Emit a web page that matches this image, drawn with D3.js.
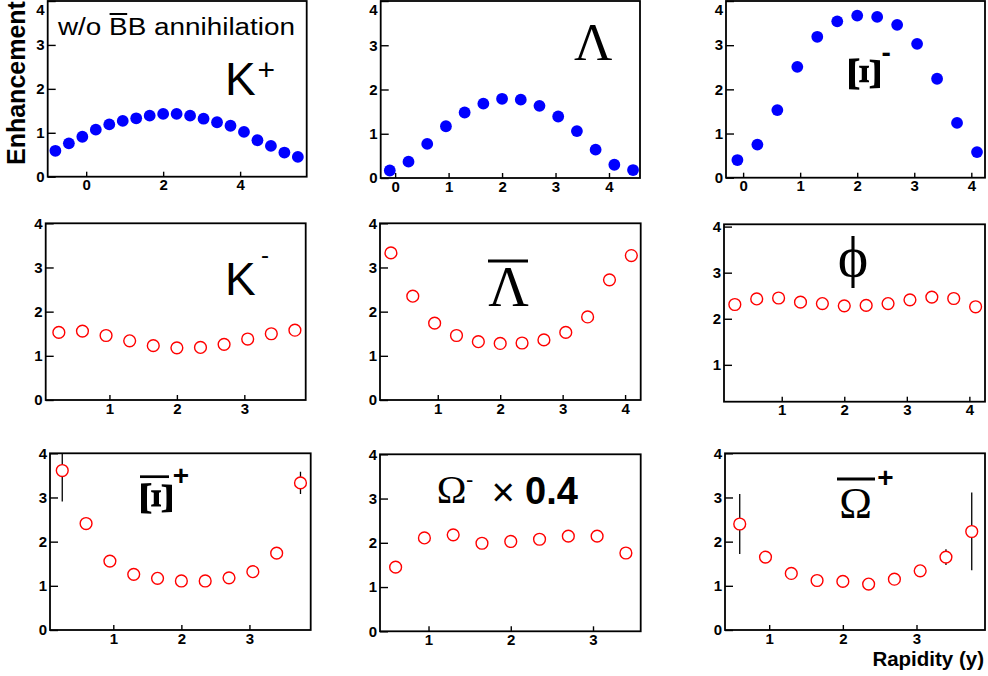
<!DOCTYPE html>
<html>
<head>
<meta charset="utf-8">
<script src="https://cdn.jsdelivr.net/npm/d3@7"></script>
<style>
  body { margin: 0; background: #fff; }
  svg { display: block; }
  text { font-family: "Liberation Sans", Arial, Helvetica, sans-serif; }
  .serif { font-family: "Liberation Serif", "Times New Roman", "DejaVu Serif", serif; }
</style>
</head>
<body>
<svg id="chart" width="988" height="676"></svg>
<script>
// ---- Rapidity bins and enhancement values, one pair of arrays per particle ----
const kPlusRap = [-0.8, -0.45, -0.1, 0.25, 0.6, 0.95, 1.3, 1.65, 2.0, 2.35, 2.7, 3.05, 3.4, 3.75, 4.1, 4.45, 4.8, 5.15, 5.5];
const kPlusEnh = [0.59, 0.76, 0.91, 1.07, 1.19, 1.27, 1.33, 1.39, 1.43, 1.43, 1.39, 1.32, 1.24, 1.16, 1.02, 0.83, 0.70, 0.55, 0.45];

const lambdaRap = [-0.1, 0.25, 0.6, 0.95, 1.3, 1.65, 2.0, 2.35, 2.7, 3.05, 3.4, 3.75, 4.1, 4.45];
const lambdaEnh = [0.17, 0.37, 0.77, 1.17, 1.48, 1.68, 1.79, 1.77, 1.63, 1.39, 1.06, 0.64, 0.30, 0.18];

const xiMinusRap = [-0.1, 0.25, 0.6, 0.95, 1.3, 1.65, 2.0, 2.35, 2.7, 3.05, 3.4, 3.75, 4.1];
const xiMinusEnh = [0.40, 0.75, 1.53, 2.51, 3.19, 3.54, 3.67, 3.64, 3.46, 3.03, 2.24, 1.24, 0.58];

const kMinusRap = [0.25, 0.6, 0.95, 1.3, 1.65, 2.0, 2.35, 2.7, 3.05, 3.4, 3.75];
const kMinusEnh = [1.53, 1.56, 1.46, 1.34, 1.23, 1.18, 1.19, 1.26, 1.38, 1.50, 1.58];

const antiLambdaRap = [0.25, 0.6, 0.95, 1.3, 1.65, 2.0, 2.35, 2.7, 3.05, 3.4, 3.75, 4.1];
const antiLambdaEnh = [3.33, 2.35, 1.74, 1.46, 1.32, 1.28, 1.29, 1.36, 1.53, 1.88, 2.72, 3.27];

const phiRap = [0.25, 0.6, 0.95, 1.3, 1.65, 2.0, 2.35, 2.7, 3.05, 3.4, 3.75, 4.1];
const phiEnh = [2.31, 2.43, 2.45, 2.36, 2.33, 2.28, 2.29, 2.33, 2.41, 2.47, 2.44, 2.26];

const antiXiRap = [0.25, 0.6, 0.95, 1.3, 1.65, 2.0, 2.35, 2.7, 3.05, 3.4, 3.75];
const antiXiEnh = [3.61, 2.41, 1.56, 1.26, 1.17, 1.11, 1.11, 1.18, 1.32, 1.74, 3.33];
const antiXiErr = [0.70, 0.08, 0.04, 0.03, 0.03, 0.03, 0.03, 0.03, 0.04, 0.08, 0.25];

const omegaRap = [0.6, 0.95, 1.3, 1.65, 2.0, 2.35, 2.7, 3.05, 3.4];
const omegaEnh = [1.45, 2.11, 2.18, 1.99, 2.03, 2.08, 2.15, 2.15, 1.77];

const antiOmegaRap = [0.6, 0.95, 1.3, 1.65, 2.0, 2.35, 2.7, 3.05, 3.4, 3.75];
const antiOmegaEnh = [2.40, 1.65, 1.28, 1.12, 1.10, 1.04, 1.15, 1.34, 1.65, 2.23];
const antiOmegaErr = [0.68, 0.05, 0.05, 0.04, 0.04, 0.04, 0.05, 0.06, 0.18, 0.88];

// ---- Tick labels ----
const yTicksFull = [0, 1, 2, 3, 4];
const yTicksPhi = [1, 2, 3, 4];
const xTicksWide = [0, 2, 4];
const xTicksZeroToFour = [0, 1, 2, 3, 4];
const xTicksOneToFour = [1, 2, 3, 4];
const xTicksOneToThree = [1, 2, 3];

// ---- Panel layout (frames in pixels) ----
const panels = [
  { rap: kPlusRap, enh: kPlusEnh, filled: true, xDom: [-1, 5.73], yDom: [0, 4], xt: xTicksWide, yt: yTicksFull,
    f: { l: 47.7, r: 306.7, t: 1, b: 176.7 } },
  { rap: lambdaRap, enh: lambdaEnh, filled: true, xDom: [-0.27, 4.58], yDom: [0, 4], xt: xTicksZeroToFour, yt: yTicksFull,
    f: { l: 380.7, r: 640, t: 1, b: 178 } },
  { rap: xiMinusRap, enh: xiMinusEnh, filled: true, xDom: [-0.3, 4.24], yDom: [0, 4], xt: xTicksZeroToFour, yt: yTicksFull,
    f: { l: 726, r: 985, t: 1, b: 177.7 } },
  { rap: kMinusRap, enh: kMinusEnh, filled: false, xDom: [0.055, 3.91], yDom: [0, 4], xt: xTicksOneToThree, yt: yTicksFull,
    f: { l: 45.7, r: 305.7, t: 223.3, b: 400 } },
  { rap: antiLambdaRap, enh: antiLambdaEnh, filled: false, xDom: [0.075, 4.25], yDom: [0, 4], xt: xTicksOneToFour, yt: yTicksFull,
    f: { l: 380, r: 640.7, t: 223.3, b: 400 } },
  { rap: phiRap, enh: phiEnh, filled: false, xDom: [0.077, 4.25], yDom: [0.2, 4.05], xt: xTicksOneToFour, yt: yTicksPhi,
    f: { l: 724, r: 985, t: 224.3, b: 401.7 } },
  { rap: antiXiRap, enh: antiXiEnh, err: antiXiErr, filled: false, xDom: [0.07, 3.9], yDom: [0, 4], xt: xTicksOneToThree, yt: yTicksFull,
    f: { l: 50, r: 310.7, t: 453.3, b: 630 } },
  { rap: omegaRap, enh: omegaEnh, filled: false, xDom: [0.41, 3.58], yDom: [0, 4], xt: xTicksOneToThree, yt: yTicksFull,
    f: { l: 380, r: 640.7, t: 454.3, b: 631.3 } },
  { rap: antiOmegaRap, enh: antiOmegaEnh, err: antiOmegaErr, filled: false, xDom: [0.40, 3.93], yDom: [0, 4], xt: xTicksOneToThree, yt: yTicksFull,
    f: { l: 725, r: 985, t: 453.3, b: 630 } }
];

const svg = d3.select("#chart");
const R = 5.9;
const TICK_FONT = 15;

panels.forEach((p, i) => {
  const x = d3.scaleLinear().domain(p.xDom).range([p.f.l, p.f.r]);
  const y = d3.scaleLinear().domain(p.yDom).range([p.f.b, p.f.t]);
  const g = svg.append("g").attr("class", "panel");

  // frame
  g.append("rect")
    .attr("x", p.f.l).attr("y", p.f.t)
    .attr("width", p.f.r - p.f.l).attr("height", p.f.b - p.f.t)
    .attr("fill", "none").attr("stroke", "#000").attr("stroke-width", 1.8);

  // axes with inward ticks
  const xAxis = d3.axisBottom(x).tickValues(p.xt).tickFormat(d3.format("d"))
    .tickSizeInner(-5).tickSizeOuter(0).tickPadding(3);
  const yAxis = d3.axisLeft(y).tickValues(p.yt).tickFormat(d3.format("d"))
    .tickSizeInner(-8).tickSizeOuter(0).tickPadding(3);

  const gx = g.append("g").attr("transform", `translate(0,${p.f.b})`).call(xAxis);
  const gy = g.append("g").attr("transform", `translate(${p.f.l},0)`).call(yAxis);
  [gx, gy].forEach(a => {
    a.select(".domain").remove();
    a.selectAll("line").attr("stroke", "#000").attr("stroke-width", 1.4);
    a.selectAll("text").attr("fill", "#000")
      .style("font-family", '"Liberation Sans", Arial, sans-serif')
      .style("font-size", TICK_FONT + "px").style("font-weight", "bold");
  });
  // keep the top label of the upper row inside the page
  gy.selectAll(".tick text").each(function () {
    const bb = this.getBBox();
    const tr = this.parentNode.transform.baseVal.consolidate();
    const ty = tr ? tr.matrix.f : 0;
    if (ty + bb.y < 0) d3.select(this).attr("y", -(ty + bb.y) + 0.5);
  });

  const pts = p.rap.map((r, k) => ({ r, e: p.enh[k], s: p.err ? p.err[k] : 0 }));

  // error bars (drawn outside the marker, clipped to the frame)
  if (p.err) {
    const clipId = "clip" + i;
    g.append("clipPath").attr("id", clipId).append("rect")
      .attr("x", p.f.l).attr("y", p.f.t)
      .attr("width", p.f.r - p.f.l).attr("height", p.f.b - p.f.t);
    const eg = g.append("g").attr("clip-path", `url(#${clipId})`);
    pts.forEach(d => {
      const cx = x(d.r), cy = y(d.e);
      const top = y(d.e + d.s), bot = y(d.e - d.s);
      if (cy - R > top) {
        eg.append("line").attr("x1", cx).attr("x2", cx).attr("y1", top).attr("y2", cy - R)
          .attr("stroke", "#000").attr("stroke-width", 1.3);
      }
      if (bot > cy + R) {
        eg.append("line").attr("x1", cx).attr("x2", cx).attr("y1", cy + R).attr("y2", bot)
          .attr("stroke", "#000").attr("stroke-width", 1.3);
      }
    });
  }

  // markers
  g.append("g").selectAll("circle").data(pts).join("circle")
    .attr("cx", d => x(d.r)).attr("cy", d => y(d.e)).attr("r", R)
    .attr("fill", p.filled ? "#0000ff" : "none")
    .attr("stroke", p.filled ? "none" : "#ff0000")
    .attr("stroke-width", 1.4);
});

// ---- Particle labels ----
function txt(xp, yp, s, size, opts = {}) {
  const t = svg.append("text").attr("x", xp).attr("y", yp).text(s)
    .attr("font-size", size).attr("fill", "#000");
  if (opts.serif) t.attr("class", "serif");
  if (opts.bold) t.attr("font-weight", "bold");
  if (opts.anchor) t.attr("text-anchor", opts.anchor);
  return t;
}
function bar(x1, x2, yp, w) {
  svg.append("line").attr("x1", x1).attr("x2", x2).attr("y1", yp).attr("y2", yp)
    .attr("stroke", "#000").attr("stroke-width", w);
}
// Xi glyph turned on its side
function xiGlyph(cx, cy, size) {
  svg.append("g").attr("transform", `translate(${cx},${cy}) rotate(90) scale(1.15,1)`)
    .append("text").attr("class", "serif").attr("x", 0).attr("y", 0.331 * size)
    .attr("text-anchor", "middle").attr("font-size", size).attr("font-weight", "bold")
    .attr("fill", "#000").text("Ξ");
}

// K+
txt(225, 95, "K", 46);
txt(257.5, 80, "+", 30);
// Lambda
txt(593.3, 60, "Λ", 53, { serif: true, anchor: "middle" });
// Xi-
xiGlyph(865, 74, 47);
txt(881.5, 61.5, "-", 28, { bold: true });
// K-
txt(225, 295, "K", 46);
txt(261, 263, "-", 24);
// anti-Lambda
txt(508.5, 306, "Λ", 56, { serif: true, anchor: "middle" });
bar(488, 528, 261, 3);
// phi
txt(853, 276, "ϕ", 58, { serif: true, anchor: "middle" });
// anti-Xi+
xiGlyph(156.5, 498.5, 46);
bar(140, 169, 476.7, 2.7);
txt(181, 485, "+", 28, { bold: true, anchor: "middle" });
// Omega- x 0.4
txt(451.7, 503, "Ω", 40, { serif: true, anchor: "middle" });
txt(466, 487, "-", 22);
txt(503.3, 506, "×", 40, { anchor: "middle" });
txt(525, 504, "0.4", 38, { bold: true });
// anti-Omega+
txt(855.5, 518.3, "Ω", 44, { serif: true, anchor: "middle" });
bar(837, 875, 479, 3);
txt(885.5, 487.3, "+", 28, { bold: true, anchor: "middle" });

// ---- Title note, axis titles ----
const note = txt(58, 35, "w/o BB annihilation", 23)
  .attr("textLength", 237).attr("lengthAdjust", "spacingAndGlyphs");
const ext = note.node().getExtentOfChar(4);
bar(ext.x + 0.5, ext.x + ext.width - 0.5, 14, 2);

txt(984, 666, "Rapidity (y)", 20.5, { bold: true, anchor: "end" });

svg.append("text").attr("transform", "translate(25,165) rotate(-90)")
  .attr("font-size", 25).attr("font-weight", "bold").attr("fill", "#000")
  .text("Enhancement");
</script>
</body>
</html>
